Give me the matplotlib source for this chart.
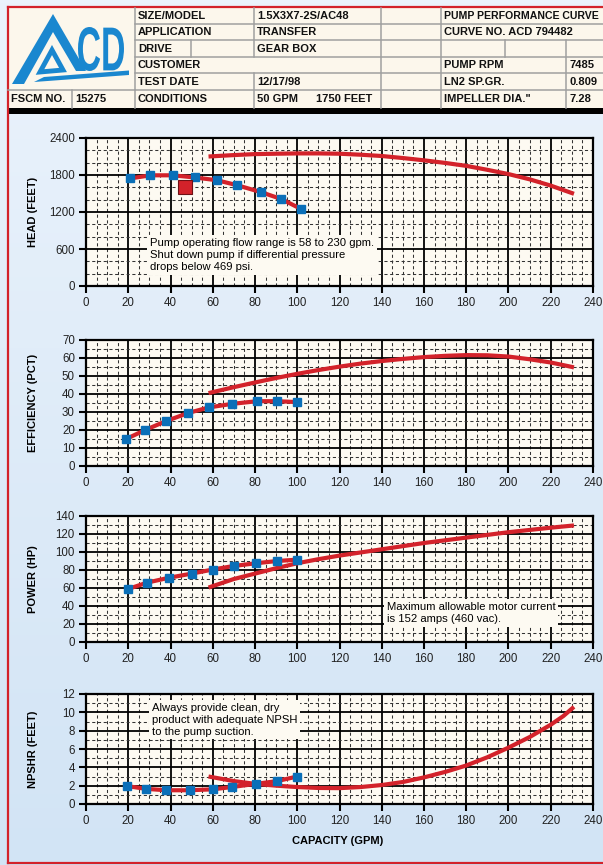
import numpy as np
import matplotlib
matplotlib.use('Agg')
import matplotlib.pyplot as plt
from matplotlib import font_manager
from matplotlib.colors import LinearSegmentedColormap
from matplotlib.patches import Polygon, Rectangle, PathPatch
from matplotlib.textpath import TextPath
from matplotlib.font_manager import FontProperties
from matplotlib.transforms import Affine2D

names = {f.name for f in font_manager.fontManager.ttflist}
narrow = 'Liberation Sans Narrow' if 'Liberation Sans Narrow' in names else 'Liberation Sans'
plt.rcParams['font.family'] = ['Liberation Sans', 'DejaVu Sans']

# ---- data ----
gpm_ticks = list(range(0, 241, 20))

# test points (blue squares), the red test line runs through them
test_head_gpm = [21, 30.5, 41, 51.5, 62, 71.5, 83, 92.5, 102]
test_head = [1745, 1795, 1795, 1760, 1715, 1635, 1520, 1410, 1245]
test_eff_gpm = [19, 28, 38, 48.5, 58, 69, 81, 90.5, 100]
test_eff = [15, 20, 25, 29.5, 32.5, 34.5, 36, 36, 35.5]
test_pow_gpm = [20, 29, 39.5, 50, 60, 70, 80.5, 90.5, 100]
test_pow = [59, 66, 71.5, 76, 80.5, 84.5, 87.5, 90, 91.5]
test_npsh_gpm = [19.5, 28.5, 38, 49, 60, 69, 80.5, 90.5, 100]
test_npsh = [1.95, 1.65, 1.5, 1.5, 1.6, 1.85, 2.2, 2.5, 3.0]

# rated curves
rated_gpm = [58, 70, 80, 90, 100, 110, 120, 130, 140, 150, 160, 170,
             180, 190, 200, 210, 220, 231]
rated_head = [2100, 2123, 2139, 2145, 2150, 2150, 2145, 2129, 2108, 2075,
              2038, 1996, 1948, 1884, 1815, 1730, 1628, 1495]
rated_eff = [40.5, 43.8, 46.4, 48.9, 51.2, 53.3, 55.2, 56.9, 58.3, 59.5,
             60.5, 61.2, 61.6, 61.5, 60.8, 59.3, 57.5, 54.8]
rated_pow = [60.5, 70, 76, 82, 87.5, 92, 96, 99.5, 103, 106.5, 110, 113,
             116, 119, 122, 124.5, 127, 129.5]
npsh_gpm = [58, 70, 80, 90, 100, 110, 120, 130, 140, 150, 160, 170,
            180, 190, 200, 210, 220, 226, 231]
rated_npsh = [3.0, 2.5, 2.2, 2.0, 1.85, 1.75, 1.73, 1.85, 2.07, 2.4, 2.9,
              3.5, 4.2, 5.1, 6.15, 7.3, 8.65, 9.6, 10.6]

design_gpm, design_head = 47, 1600

RED = '#d3222a'
BLUE = '#0a6fb8'
CREAM = '#fdfaf2'
W, H = 603, 865

fig = plt.figure(figsize=(W / 100, H / 100), dpi=100)

# background, border and header drawn in pixel coordinates
bg = fig.add_axes([0, 0, 1, 1], zorder=0)
bg.set_xlim(0, W)
bg.set_ylim(H, 0)
bg.axis('off')
grad = np.linspace(0, 1, 256).reshape(-1, 1)
cmap = LinearSegmentedColormap.from_list('bg', ['#ebf3fc', '#d2e4f5'])
bg.imshow(grad, cmap=cmap, extent=[0, W, H, 0], aspect='auto')

bg.add_patch(Rectangle((8, 7.5), W - 8, 100, fc='#fcf7ec', ec='none'))
bg.add_patch(Rectangle((8, 107.5), W - 8, 6.5, fc='black', ec='none'))
bg.plot([8, 8], [7, 863], color=RED, lw=1.6)
bg.plot([8, W], [7, 7], color=RED, lw=1.6)
bg.plot([8, W], [863, 863], color=RED, lw=1.6)

rows = [7.5, 23.5, 40, 56.5, 73, 89.5, 107.5]
gray = '#a0a0a0'
for y in rows[1:-1]:
    bg.plot([135, W], [y, y], color=gray, lw=1.1)
bg.plot([8, 135], [rows[5], rows[5]], color=gray, lw=1.1)


def vline(x, r0, r1):
    bg.plot([x, x], [rows[r0], rows[r1]], color=gray, lw=1.1)


vline(135, 0, 6)
vline(72, 5, 6)
vline(191, 2, 3)
vline(254, 0, 3)
vline(254, 4, 6)
vline(381, 0, 6)
vline(441, 0, 6)
vline(505, 2, 3)
vline(566, 2, 6)


def cell(x, r, s, size=8):
    bg.text(x + 3, (rows[r] + rows[r + 1]) / 2 + 0.5, s, va='center', ha='left',
            family=narrow, fontweight='bold', fontsize=size, color='#111111')


cell(135, 0, 'SIZE/MODEL')
cell(135, 1, 'APPLICATION')
cell(135, 2, 'DRIVE')
cell(135, 3, 'CUSTOMER')
cell(135, 4, 'TEST DATE')
cell(135, 5, 'CONDITIONS')
cell(254, 0, '1.5X3X7-2S/AC48')
cell(254, 1, 'TRANSFER')
cell(254, 2, 'GEAR BOX')
cell(254, 4, '12/17/98')
cell(254, 5, '50 GPM')
cell(313, 5, '1750 FEET')
cell(441, 0, 'PUMP PERFORMANCE CURVE', size=7.55)
cell(441, 1, 'CURVE NO. ACD 794482')
cell(441, 3, 'PUMP RPM')
cell(441, 4, 'LN2 SP.GR.')
cell(441, 5, 'IMPELLER DIA."')
cell(566, 3, '7485')
cell(566, 4, '0.809')
cell(566, 5, '7.28')
cell(8, 5, 'FSCM NO.')
cell(72, 5, '15275')

# logo
LOGO = '#1a87cf'
bg.add_patch(Polygon([(12, 84), (53, 14), (86, 71), (76, 71), (53, 32), (24, 84)],
                     closed=True, fc=LOGO, ec='none'))
bg.add_patch(Polygon([(40, 72), (52, 50), (63, 70)], closed=True, fc='none',
                     ec=LOGO, lw=3.5, joinstyle='miter'))
bg.add_patch(Polygon([(34, 82), (129, 75), (129, 70.5), (44, 77)], closed=True,
                     fc=LOGO, ec='none'))
tp = TextPath((0, 0), 'CD', size=50, prop=FontProperties(family=narrow, weight='bold'))
ext = tp.get_extents()
sx = (124 - 78) / ext.width
sy = (71 - 27) / ext.height
tr = Affine2D().translate(-ext.x0, -ext.y0).scale(sx, -sy).translate(78, 71)
bg.add_patch(PathPatch(tr.transform_path(tp), fc=LOGO, ec='none'))

# ---- chart panels ----
left, width = 86 / W, (593 - 86) / W


def panel(top, bottom, ymax, ymajor, yminor, ylabel):
    ax = fig.add_axes([left, 1 - bottom / H, width, (bottom - top) / H], zorder=2)
    ax.set_facecolor(CREAM)
    ax.set_xlim(0, 240)
    ax.set_ylim(0, ymax)
    ax.set_xticks(gpm_ticks)
    ax.set_xticks(np.arange(0, 241, 5), minor=True)
    ax.set_yticks(np.arange(0, ymax + 0.01, ymajor))
    ax.set_yticks(np.arange(0, ymax + 0.01, yminor), minor=True)
    ax.grid(which='major', color='black', lw=1.3)
    ax.grid(which='minor', color='#333333', lw=0.75, ls=(0, (3, 2.5)))
    ax.set_axisbelow(True)
    for sp in ax.spines.values():
        sp.set_linewidth(1.6)
    ax.tick_params(which='major', direction='out', length=5, width=1.5,
                   labelsize=8.3, colors='black', labelcolor='#222222', pad=3)
    ax.tick_params(which='minor', length=0)
    fig.text(33 / W, 1 - (top + bottom) / 2 / H, ylabel, rotation=90, ha='center',
             va='center', fontweight='bold', fontsize=8, family=narrow)
    return ax


def curves(ax, rx, ry, tx, ty):
    ax.plot(rx, ry, color=RED, lw=3.0, solid_capstyle='butt', zorder=3)
    ax.plot(tx, ty, color=RED, lw=3.0, solid_capstyle='butt', zorder=3)
    ax.plot(tx, ty, ls='none', marker='s', ms=6.3, color=BLUE, zorder=4)


box = dict(boxstyle='square,pad=0.25', fc=CREAM, ec='none')

ax1 = panel(138, 286, 2400, 600, 200, 'HEAD (FEET)')
curves(ax1, rated_gpm, rated_head, test_head_gpm, test_head)
ax1.plot([design_gpm], [design_head], ls='none', marker='s', ms=10, color=RED,
         mec='#6e1014', mew=0.8, zorder=5)
ax1.text(30.4, 503, 'Pump operating flow range is 58 to 230 gpm.\n'
         'Shut down pump if differential pressure\ndrops below 469 psi.',
         ha='left', va='center', fontsize=8.1, family=narrow, linespacing=1.25,
         bbox=box, zorder=3)

ax2 = panel(340, 466, 70, 10, 5, 'EFFICIENCY (PCT)')
curves(ax2, rated_gpm, rated_eff, test_eff_gpm, test_eff)

ax3 = panel(516, 642, 140, 20, 10, 'POWER (HP)')
curves(ax3, rated_gpm, rated_pow, test_pow_gpm, test_pow)
ax3.text(142.3, 32, 'Maximum allowable motor current\nis 152 amps (460 vac).',
         ha='left', va='center', fontsize=8.1, family=narrow, linespacing=1.25,
         bbox=box, zorder=3)

ax4 = panel(694, 804, 12, 2, 1, 'NPSHR (FEET)')
curves(ax4, npsh_gpm, rated_npsh, test_npsh_gpm, test_npsh)
ax4.text(31.3, 9.2, 'Always provide clean, dry\nproduct with adequate NPSH\n'
         'to the pump suction.',
         ha='left', va='center', fontsize=8.1, family=narrow, linespacing=1.25,
         bbox=box, zorder=3)
fig.text(338 / W, 1 - 841 / H, 'CAPACITY (GPM)', ha='center', va='center',
         fontweight='bold', fontsize=8, family=narrow)

fig.savefig('out.png', dpi=100)
